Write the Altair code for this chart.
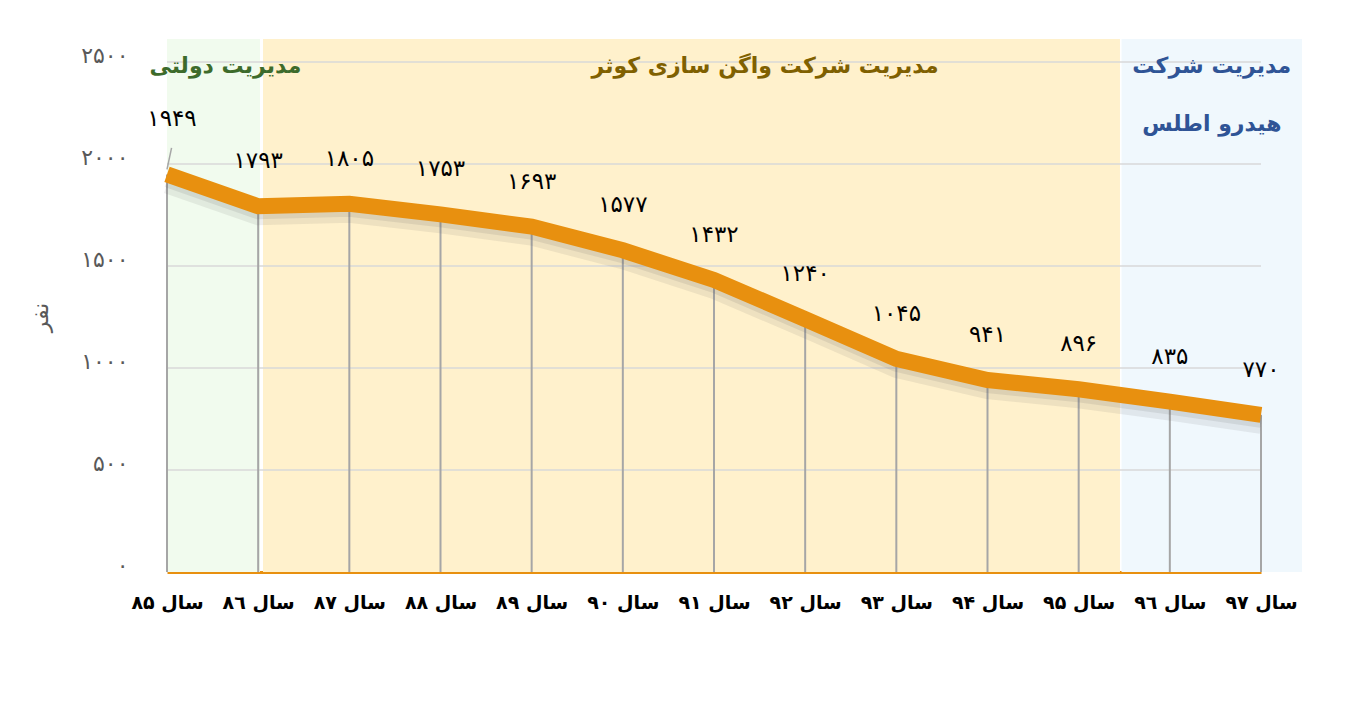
import json
import altair as alt
import pandas as pd

# ---- data ----
x_labels = ["سال ۸۵", "سال ۸٦", "سال ۸۷", "سال ۸۸", "سال ۸۹", "سال ۹۰", "سال ۹۱",
            "سال ۹۲", "سال ۹۳", "سال ۹۴", "سال ۹۵", "سال ۹٦", "سال ۹۷"]
values = [1949, 1793, 1805, 1753, 1693, 1577, 1432, 1240, 1045, 941, 896, 835, 770]
y_ticks = [0, 500, 1000, 1500, 2000, 2500]
y_tick_labels = ["۰", "۵۰۰", "۱۰۰۰", "۱۵۰۰", "۲۰۰۰", "۲۵۰۰"]
y_title = "نفر"

region_names = ["دولتی", "کوثر", "هیدرو"]
region_start = [0.0, 1.053, 10.47]
region_end = [1.02, 10.453, 12.45]
region_titles = [["مدیریت دولتی"], ["مدیریت شرکت واگن سازی کوثر"], ["مدیریت شرکت", "هیدرو اطلس"]]
region_title_x = [0.64, 6.56, 11.46]

FONT = "DejaVu Sans"
fa_digits = str.maketrans("0123456789", "۰۱۲۳۴۵۶۷۸۹")

df = pd.DataFrame({
    "idx": list(range(len(values))),
    "value": values,
    "label": [str(v).translate(fa_digits) for v in values],
    "zero": [0] * len(values),
})
bands = pd.DataFrame({
    "region": region_names,
    "start": region_start,
    "end": region_end,
    "lo": [0] * 3,
    "hi": [2613] * 3,
})
grid = pd.DataFrame({"g": y_ticks[1:], "x0": [0] * 5, "x1": [len(values) - 1] * 5})

x_expr = json.dumps(x_labels, ensure_ascii=False) + "[datum.value]"
y_expr = json.dumps(y_tick_labels, ensure_ascii=False) + "[datum.value / 500]"

xscale = alt.Scale(domain=[0, len(values) - 1], nice=False, zero=False)
yscale = alt.Scale(domain=[0, 2500], nice=False)

xaxis = alt.Axis(
    values=list(range(len(values))), labelExpr=x_expr, title=None, grid=False,
    ticks=False, domainColor="#E8900F", domainWidth=3, labelFont=FONT,
    labelFontSize=19, labelFontWeight="bold", labelColor="#000000",
    labelPadding=21, labelFlush=False, labelOverlap=False,
)
yaxis = alt.Axis(
    values=y_ticks, labelExpr=y_expr, title=y_title, grid=False, ticks=False,
    domain=False, labelFont=FONT, labelFontSize=22, labelColor="#595959",
    labelPadding=39, labelBaseline="alphabetic", titleFont=FONT, titleFontSize=22,
    titleFontWeight="normal", titleColor="#595959", titlePadding=28,
)

X = lambda f: alt.X(f, scale=xscale, axis=xaxis)
Y = lambda f: alt.Y(f, scale=yscale, axis=yaxis)

band_layer = alt.Chart(bands).mark_rect().encode(
    x=X("start:Q"), x2="end:Q", y=Y("lo:Q"), y2="hi:Q",
    color=alt.Color("region:N", legend=None,
                    scale=alt.Scale(domain=region_names,
                                    range=["#F1FBEE", "#FFF1CC", "#F0F8FD"])),
)

grid_layer = alt.Chart(grid).mark_rule(color="#D9D9D9", strokeWidth=1.5).encode(
    x=X("x0:Q"), x2="x1:Q", y=Y("g:Q"),
)

drop_layer = alt.Chart(df).mark_rule(color="#A6A6A6", strokeWidth=2).encode(
    x=X("idx:Q"), y=Y("value:Q"), y2="zero:Q",
)

shadow1 = alt.Chart(df).mark_line(color="#5A5A5A", opacity=0.10, strokeWidth=18,
                                  yOffset=10, strokeCap="butt").encode(
    x=X("idx:Q"), y=Y("value:Q"))
shadow2 = alt.Chart(df).mark_line(color="#5A5A5A", opacity=0.12, strokeWidth=14,
                                  yOffset=6, strokeCap="butt").encode(
    x=X("idx:Q"), y=Y("value:Q"))

line_layer = alt.Chart(df).mark_line(color="#E8900F", strokeWidth=16, strokeCap="butt",
                                     strokeJoin="miter").encode(
    x=X("idx:Q"), y=Y("value:Q"))

label_rest = alt.Chart(df).transform_filter("datum.idx > 0").mark_text(
    font=FONT, fontSize=23, color="#000000", baseline="alphabetic", dy=-38,
).encode(x=X("idx:Q"), y=Y("value:Q"), text="label:N")

label_first = alt.Chart(df).transform_filter("datum.idx == 0").mark_text(
    font=FONT, fontSize=23, color="#000000", baseline="alphabetic", dy=-48, dx=5,
).encode(x=X("idx:Q"), y=Y("value:Q"), text="label:N")

leader = alt.Chart(df).transform_filter("datum.idx == 0").transform_calculate(
    lx0="datum.idx + 0.0", lx1="datum.idx + 0.05",
    ly0="datum.value + 25", ly1="datum.value + 130",
).mark_rule(color="#A6A6A6", strokeWidth=1.5).encode(
    x=X("lx0:Q"), x2="lx1:Q", y=Y("ly0:Q"), y2="ly1:Q")

title_colors = ["#3D6B2B", "#7F6000", "#2F5496"]
title_layers = []
for i, lines in enumerate(region_titles):
    for j, t in enumerate(lines):
        tdf = pd.DataFrame({"x": [region_title_x[i]], "t": [t]})
        title_layers.append(
            alt.Chart(tdf).mark_text(font=FONT, fontSize=22, fontWeight="bold",
                                     color=title_colors[i], baseline="alphabetic").encode(
                x=X("x:Q"), y=alt.value(11 + 58 * j), text="t:N")
        )

chart = alt.layer(
    band_layer, grid_layer, drop_layer, shadow1, shadow2, line_layer,
    leader, label_first, label_rest, *title_layers,
).properties(
    width=1094, height=510,
    autosize=alt.AutoSizeParams(type="none"),
    padding={"left": 159, "top": 54, "right": 80, "bottom": 100},
    background="#FFFFFF",
).configure_view(strokeWidth=0)

chart.save("out.html", embed_options={"renderer": "svg", "actions": False})
